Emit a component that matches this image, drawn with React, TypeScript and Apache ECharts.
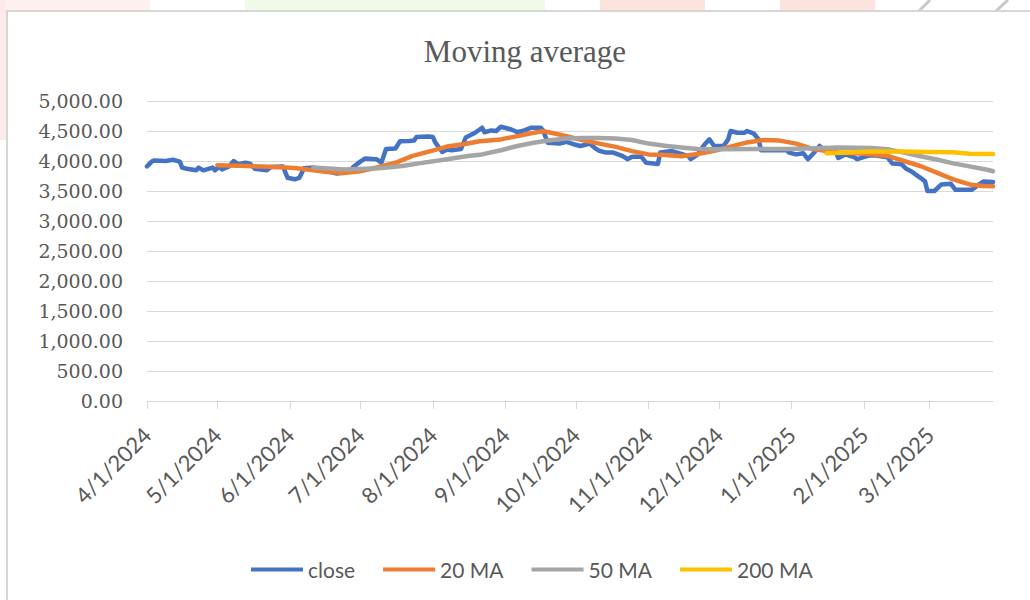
import React, { useEffect, useRef } from "react";
import * as echarts from "echarts";

const chartTitle = "Moving average";

const tickLabels = [
  "4/1/2024", "5/1/2024", "6/1/2024", "7/1/2024", "8/1/2024", "9/1/2024",
  "10/1/2024", "11/1/2024", "12/1/2024", "1/1/2025", "2/1/2025", "3/1/2025",
];

const axisStart = "2024-04-01";
const axisEnd = "2025-03-28";

const closeDates = [
  "2024-04-01", "2024-04-03", "2024-04-04", "2024-04-09", "2024-04-12", "2024-04-15", "2024-04-16", "2024-04-18",
  "2024-04-22", "2024-04-23", "2024-04-25", "2024-04-29", "2024-04-30", "2024-05-02", "2024-05-03", "2024-05-06",
  "2024-05-08", "2024-05-10", "2024-05-13", "2024-05-15", "2024-05-17", "2024-05-22", "2024-05-24", "2024-05-29",
  "2024-05-31", "2024-06-03", "2024-06-05", "2024-06-07", "2024-06-11", "2024-06-14", "2024-06-18", "2024-06-21",
  "2024-06-25", "2024-06-27", "2024-06-28", "2024-07-01", "2024-07-03", "2024-07-08", "2024-07-10", "2024-07-12",
  "2024-07-16", "2024-07-18", "2024-07-22", "2024-07-24", "2024-07-25", "2024-07-30", "2024-08-01", "2024-08-02",
  "2024-08-05", "2024-08-07", "2024-08-09", "2024-08-13", "2024-08-15", "2024-08-19", "2024-08-22", "2024-08-23",
  "2024-08-26", "2024-08-28", "2024-08-30", "2024-09-03", "2024-09-05", "2024-09-06", "2024-09-09", "2024-09-12",
  "2024-09-16", "2024-09-17", "2024-09-19", "2024-09-24", "2024-09-27", "2024-09-30", "2024-10-03", "2024-10-07",
  "2024-10-09", "2024-10-11", "2024-10-14", "2024-10-17", "2024-10-21", "2024-10-23", "2024-10-25", "2024-10-29",
  "2024-10-31", "2024-11-04", "2024-11-05", "2024-11-06", "2024-11-11", "2024-11-15", "2024-11-18", "2024-11-19",
  "2024-11-22", "2024-11-25", "2024-11-27", "2024-11-29", "2024-12-03", "2024-12-05", "2024-12-06", "2024-12-09",
  "2024-12-12", "2024-12-13", "2024-12-16", "2024-12-18", "2024-12-19", "2024-12-23", "2024-12-30", "2024-12-31",
  "2025-01-03", "2025-01-06", "2025-01-08", "2025-01-10", "2025-01-13", "2025-01-16", "2025-01-20", "2025-01-21",
  "2025-01-24", "2025-01-28", "2025-01-29", "2025-02-03", "2025-02-06", "2025-02-11", "2025-02-13", "2025-02-17",
  "2025-02-19", "2025-02-21", "2025-02-25", "2025-02-27", "2025-02-28", "2025-03-03", "2025-03-06", "2025-03-10",
  "2025-03-12", "2025-03-19", "2025-03-21", "2025-03-24", "2025-03-28",
];
const closeValues = [
  3910, 3990, 4010, 4000, 4020, 3990, 3890, 3870,
  3845, 3890, 3845, 3890, 3845, 3910, 3860, 3910,
  4000, 3945, 3970, 3955, 3870, 3845, 3900, 3910,
  3720, 3695, 3720, 3880, 3890, 3860, 3820, 3790,
  3810, 3840, 3900, 3990, 4040, 4030, 3970, 4200,
  4210, 4330, 4335, 4340, 4400, 4410, 4400, 4310,
  4150, 4190, 4180, 4200, 4390, 4470, 4555, 4480,
  4510, 4500, 4570, 4530, 4500, 4480, 4510, 4555,
  4555, 4510, 4305, 4290, 4320, 4280, 4250, 4290,
  4220, 4170, 4140, 4140, 4080, 4030, 4070, 4070,
  3970, 3955, 3950, 4140, 4165, 4120, 4080, 4030,
  4110, 4280, 4360, 4250, 4250, 4360, 4500, 4470,
  4470, 4500, 4455, 4360, 4180, 4180, 4180, 4140,
  4110, 4130, 4030, 4110, 4250, 4150, 4140, 4050,
  4110, 4060, 4030, 4090, 4090, 4060, 3960, 3945,
  3870, 3830, 3720, 3660, 3500, 3500, 3610, 3620,
  3520, 3520, 3580, 3660, 3650,
];

const ma20Dates = [
  "2024-05-01", "2024-05-10", "2024-05-23", "2024-06-03", "2024-06-11", "2024-06-17", "2024-06-24", "2024-07-01",
  "2024-07-09", "2024-07-16", "2024-07-23", "2024-07-31", "2024-08-07", "2024-08-14", "2024-08-21", "2024-08-30",
  "2024-09-06", "2024-09-13", "2024-09-17", "2024-09-20", "2024-09-27", "2024-10-04", "2024-10-11", "2024-10-18",
  "2024-10-25", "2024-11-01", "2024-11-08", "2024-11-15", "2024-11-22", "2024-11-29", "2024-12-06", "2024-12-13",
  "2024-12-20", "2024-12-27", "2025-01-03", "2025-01-10", "2025-01-21", "2025-01-28", "2025-02-04", "2025-02-11",
  "2025-02-18", "2025-02-25", "2025-03-04", "2025-03-11", "2025-03-18", "2025-03-24", "2025-03-28",
];
const ma20Values = [
  3930, 3920, 3905, 3885, 3845, 3815, 3800, 3830,
  3900, 3970, 4080, 4165, 4240, 4280, 4330, 4360,
  4415, 4470, 4495, 4475, 4415, 4345, 4290, 4235,
  4165, 4110, 4100, 4080, 4115, 4170, 4240, 4310,
  4350, 4340, 4290, 4200, 4140, 4130, 4113, 4085,
  4000, 3917, 3805, 3693, 3610, 3582, 3580,
];

const ma50Dates = [
  "2024-06-11", "2024-06-24", "2024-07-09", "2024-07-19", "2024-07-26", "2024-08-07", "2024-08-16", "2024-08-22",
  "2024-08-30", "2024-09-06", "2024-09-13", "2024-09-20", "2024-09-27", "2024-10-04", "2024-10-11", "2024-10-18",
  "2024-10-25", "2024-11-01", "2024-11-08", "2024-11-15", "2024-11-22", "2024-12-02", "2024-12-16", "2024-12-31",
  "2025-01-14", "2025-01-21", "2025-02-04", "2025-02-11", "2025-02-18", "2025-02-25", "2025-03-04", "2025-03-11",
  "2025-03-18", "2025-03-26", "2025-03-28",
];
const ma50Values = [
  3890, 3860, 3880, 3917, 3960, 4028, 4083, 4110,
  4180, 4250, 4305, 4345, 4375, 4385, 4385, 4375,
  4350, 4290, 4255, 4225, 4200, 4197, 4200, 4200,
  4215, 4225, 4215, 4195, 4140, 4080, 4025, 3960,
  3910, 3850, 3830,
];

const ma200Dates = [
  "2025-01-16", "2025-01-28", "2025-02-04", "2025-02-18", "2025-02-28", "2025-03-11", "2025-03-18", "2025-03-28",
];
const ma200Values = [4130, 4145, 4158, 4158, 4150, 4145, 4122, 4118];

const seriesNames = ["close", "20 MA", "50 MA", "200 MA"];
const seriesColors = ["#4472C4", "#ED7D31", "#A5A5A5", "#FFC000"];

function isoToTime(iso: string): number {
  const [y, m, d] = iso.split("-").map(Number);
  return new Date(y, m - 1, d).getTime();
}
function labelToTime(label: string): number {
  const [m, d, y] = label.split("/").map(Number);
  return new Date(y, m - 1, d).getTime();
}
function pairs(dates: string[], values: number[]) {
  return dates.map((d, i) => [isoToTime(d), values[i]]);
}

export default function App() {
  const ref = useRef<HTMLDivElement>(null);

  useEffect(() => {
    if (!ref.current) return;
    const chart = echarts.init(ref.current, null, { renderer: "svg" });
    const tickTimes = tickLabels.map(labelToTime);
    const dataSets = [
      pairs(closeDates, closeValues),
      pairs(ma20Dates, ma20Values),
      pairs(ma50Dates, ma50Values),
      pairs(ma200Dates, ma200Values),
    ];

    chart.setOption({
      animation: false,
      backgroundColor: "#ffffff",
      graphic: [
        { type: "rect", z: -100, silent: true, shape: { x: 0, y: 0, width: 150, height: 12 }, style: { fill: "#fdf0ef" } },
        { type: "rect", z: -100, silent: true, shape: { x: 0, y: 0, width: 6, height: 140 }, style: { fill: "#fcebea" } },
        { type: "rect", z: -100, silent: true, shape: { x: 245, y: 0, width: 300, height: 12 }, style: { fill: "#effae8" } },
        { type: "rect", z: -100, silent: true, shape: { x: 600, y: 0, width: 105, height: 12 }, style: { fill: "#fde3de" } },
        { type: "rect", z: -100, silent: true, shape: { x: 780, y: 0, width: 95, height: 12 }, style: { fill: "#fde3de" } },
        { type: "line", z: -100, silent: true, shape: { x1: 918, y1: 12, x2: 930, y2: 0 }, style: { stroke: "#c8c8c8", lineWidth: 3 } },
        { type: "line", z: -100, silent: true, shape: { x1: 995, y1: 12, x2: 1008, y2: 0 }, style: { stroke: "#c8c8c8", lineWidth: 3 } },
        {
          type: "rect", z: -90, silent: true,
          shape: { x: 7, y: 11, width: 1040, height: 600 },
          style: { fill: "#ffffff", stroke: "#d6d6d6", lineWidth: 2 },
        },
        {
          type: "text", z: 10, silent: true,
          style: {
            text: chartTitle, x: 525, y: 51, align: "center", verticalAlign: "middle",
            fontFamily: "Liberation Serif", fontSize: 31, fill: "#595959",
          },
        },
      ],
      grid: { left: 147, right: 37, top: 101, bottom: 199, containLabel: false, outerBoundsMode: "none" },
      legend: {
        left: 246,
        top: 554,
        icon: "rect",
        itemWidth: 52,
        itemHeight: 4,
        itemGap: 28,
        textStyle: { fontFamily: "Lato", fontSize: 21, color: "#595959" },
        data: seriesNames,
      },
      xAxis: {
        type: "value",
        min: isoToTime(axisStart),
        max: isoToTime(axisEnd),
        axisLine: { show: true, lineStyle: { color: "#d9d9d9", width: 1 } },
        axisTick: { show: true, length: 8, lineStyle: { color: "#d9d9d9" }, customValues: tickTimes },
        axisLabel: {
          customValues: tickTimes,
          rotate: 45,
          margin: 30,
          hideOverlap: false,
          fontFamily: "Lato",
          fontSize: 22,
          color: "#595959",
          formatter: (v: number) => {
            const i = tickTimes.indexOf(v);
            return i >= 0 ? tickLabels[i] : "";
          },
        },
        splitLine: { show: false },
      },
      yAxis: {
        type: "value",
        min: 0,
        max: 5000,
        interval: 500,
        axisLine: { show: false },
        axisTick: { show: false },
        splitLine: { lineStyle: { color: "#d9d9d9", width: 1 } },
        axisLabel: {
          margin: 24,
          fontFamily: "DejaVu Serif",
          fontSize: 19,
          color: "#595959",
          formatter: (v: number) =>
            v.toLocaleString("en-US", { minimumFractionDigits: 2, maximumFractionDigits: 2 }),
        },
      },
      series: seriesNames.map((name, i) => ({
        name,
        type: "line",
        data: dataSets[i],
        symbol: "none",
        showSymbol: false,
        color: seriesColors[i],
        itemStyle: { color: seriesColors[i] },
        lineStyle: { width: 4.5, color: seriesColors[i], cap: "round", join: "round" },
      })),
    });

    return () => chart.dispose();
  }, []);

  return (
    <div
      ref={ref}
      style={{ position: "fixed", left: 0, top: 0, width: 1030, height: 600 }}
    />
  );
}
